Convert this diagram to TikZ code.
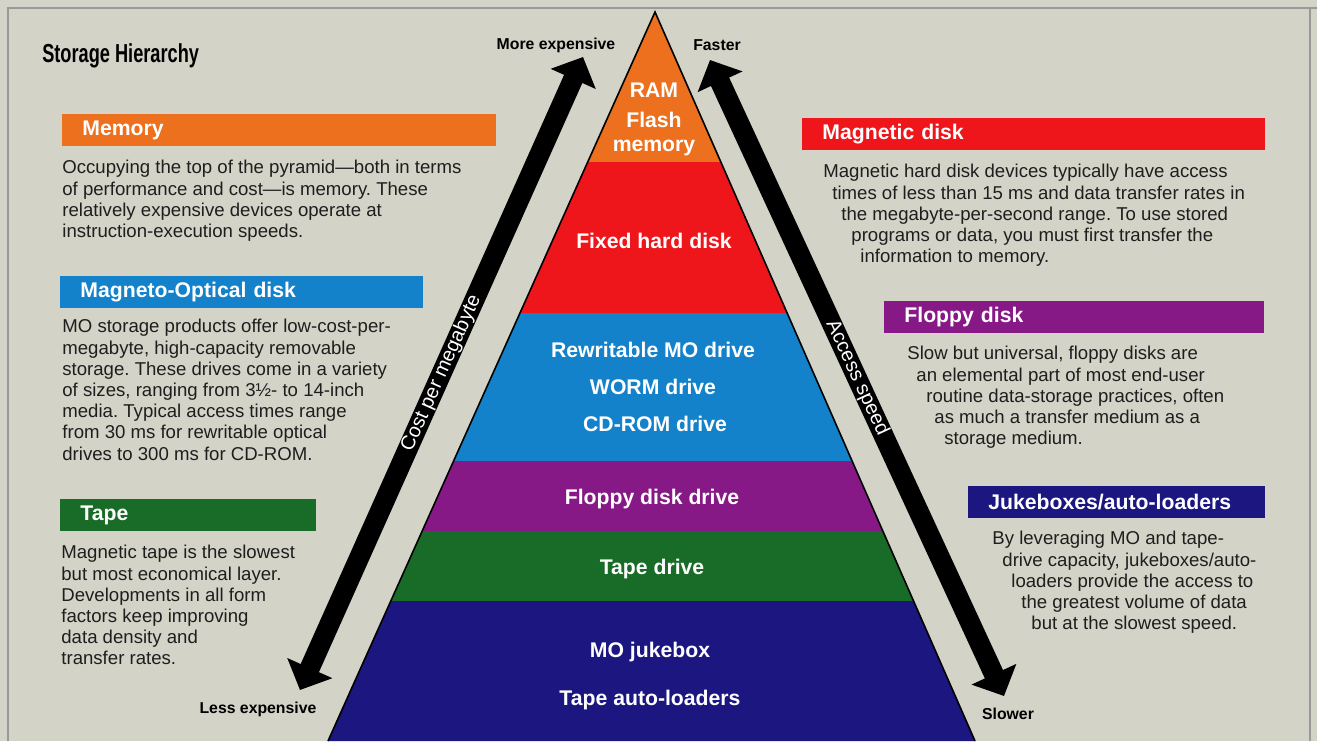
\documentclass[tikz,border=0pt]{standalone}
\usepackage{fontspec}
\setmainfont{Liberation Sans}
\usetikzlibrary{arrows.meta,calc}
\definecolor{paper}{RGB}{212,211,199}
\definecolor{ink}{RGB}{30,30,30}
\definecolor{tierorange}{RGB}{236,112,30}
\definecolor{tierred}{RGB}{238,22,26}
\definecolor{tierblue}{RGB}{20,130,202}
\definecolor{tierpurple}{RGB}{135,25,135}
\definecolor{tiergreen}{RGB}{25,108,40}
\definecolor{tiernavy}{RGB}{28,22,128}
\newcommand{\bodyfont}{\fontsize{9.3}{10.6}\selectfont}
\newcommand{\hdrfont}{\fontsize{10.6}{12}\selectfont\bfseries}
\newcommand{\tierfont}{\fontsize{10.6}{11.5}\selectfont\bfseries}
\newcommand{\cuefont}{\fontsize{7.9}{9}\selectfont\bfseries}
\frenchspacing
\begin{document}
\begin{tikzpicture}[x=0.5pt,y=-0.5pt,
  hdr/.style={anchor=west, minimum height=16pt, inner ysep=0pt, inner xsep=10pt, text=white, font=\hdrfont, align=left},
  body/.style={anchor=north west, inner sep=0pt, align=left, text=ink, font=\bodyfont},
  tier/.style={text=white, font=\tierfont, inner sep=0pt, align=center},
  cue/.style={font=\cuefont, inner sep=0pt},
  bigarrow/.style={line width=10pt, {Triangle[length=12pt,width=24pt]}-{Triangle[length=12pt,width=24pt]}},
  slant/.style={sloped, text=white, font=\fontsize{10}{12}\selectfont, inner sep=0pt}]
\useasboundingbox[fill=paper] (0,0) rectangle (1317,741);
% frame
\draw[gray!80, line width=0.6pt] (8,741) -- (8,8) -- (1317,8);
\draw[gray!80, line width=0.6pt] (1310,8) -- (1310,741);
% title
\node[anchor=west, inner sep=0pt, xscale=0.7, font=\fontsize{13}{15}\selectfont\bfseries] (title) at (42,56) {Storage Hierarchy};
% pyramid bands
\coordinate (apex) at (655,12);
\coordinate (bl) at (328,741);
\coordinate (br) at (975,741);
\foreach \ya/\yb/\col in {12/162/tierorange,162/313/tierred,313/461/tierblue,461/531/tierpurple,531/601/tiergreen,601/741/tiernavy}
  \fill[\col] ($(apex)!{(\ya-12)/729}!(bl)$) -- ($(apex)!{(\yb-12)/729}!(bl)$)
    -- ($(apex)!{(\yb-12)/729}!(br)$) -- ($(apex)!{(\ya-12)/729}!(br)$) -- cycle;
\draw[line width=0.8pt] (bl) -- (apex) -- (br);
% tier labels
\node[tier] (ram) at (654,90) {RAM};
\node[tier] (flash) at (654,134) {Flash\\[0.5pt]memory};
\node[tier] (hard) at (654,241) {Fixed hard disk};
\node[tier] (rwmo) at (653,350) {Rewritable MO drive};
\node[tier] (worm) at (653,387) {WORM drive};
\node[tier] (cdrom) at (655,424) {CD-ROM drive};
\node[tier] (fdd) at (652,499) {Floppy disk drive};
\node[tier] (tdrive) at (652,569) {Tape drive};
\node[tier] (jukebox) at (650,652) {MO jukebox};
\node[tier] (autold) at (650,700) {Tape auto-loaders};
% cost and speed arrows
\coordinate (costlo) at (300,690);
\coordinate (costhi) at (583,57);
\coordinate (speedhi) at (710,60);
\coordinate (speedlo) at (1004,696);
\draw[bigarrow] (costlo) -- node[slant] (costlbl) {Cost per megabyte} (costhi);
\draw[bigarrow] (speedhi) -- node[slant] (speedlbl) {Access speed} (speedlo);
\node[cue] (moreexp) at (556,45) {More expensive};
\node[cue] (faster) at (717,45) {Faster};
\node[cue] (lessexp) at (258,709) {Less expensive};
\node[cue] (slower) at (1008,714) {Slower};
% left column
\node[hdr, fill=tierorange, text width=197pt] (memhdr) at (62,130) {Memory};
\node[body] (membody) at (62,160) {Occupying the top of the pyramid---both in terms\\of performance and cost---is memory. These\\relatively expensive devices operate at\\instruction-execution speeds.};
\node[hdr, fill=tierblue, text width=161.5pt] (mohdr) at (60,292) {Magneto-Optical disk};
\node[body] (mobody) at (62,319) {MO storage products offer low-cost-per-\\megabyte, high-capacity removable\\storage. These drives come in a variety\\of sizes, ranging from 3½- to 14-inch\\media. Typical access times range\\from 30 ms for rewritable optical\\drives to 300 ms for CD-ROM.};
\node[hdr, fill=tiergreen, text width=108pt] (tapehdr) at (60,515) {Tape};
\node[body] (tapebody) at (61,545) {Magnetic tape is the slowest\\but most economical layer.\\Developments in all form\\factors keep improving\\data density and\\transfer rates.};
% right column
\node[hdr, fill=tierred, text width=211.5pt] (maghdr) at (802,134) {Magnetic disk};
\node[body] (magbody) at (823,164) {Magnetic hard disk devices typically have access\\\hspace*{4.5pt}times of less than 15 ms and data transfer rates in\\\hspace*{9pt}the megabyte-per-second range. To use stored\\\hspace*{14pt}programs or data, you must first transfer the\\\hspace*{18.5pt}information to memory.};
\node[hdr, fill=tierpurple, text width=170pt] (fdhdr) at (884,317) {Floppy disk};
\node[body] (fdbody) at (907,346) {Slow but universal, floppy disks are\\\hspace*{4.5pt}an elemental part of most end-user\\\hspace*{9.5pt}routine data-storage practices, often\\\hspace*{13.5pt}as much a transfer medium as a\\\hspace*{18.5pt}storage medium.};
\node[hdr, fill=tiernavy, text width=128.5pt] (jbhdr) at (968,502) {Jukeboxes/auto-loaders};
\node[body] (jbbody) at (992,531) {By leveraging MO and tape-\\\hspace*{5pt}drive capacity, jukeboxes/auto-\\\hspace*{9.5pt}loaders provide the access to\\\hspace*{14.5pt}the greatest volume of data\\\hspace*{19.5pt}but at the slowest speed.};
\end{tikzpicture}
\end{document}
